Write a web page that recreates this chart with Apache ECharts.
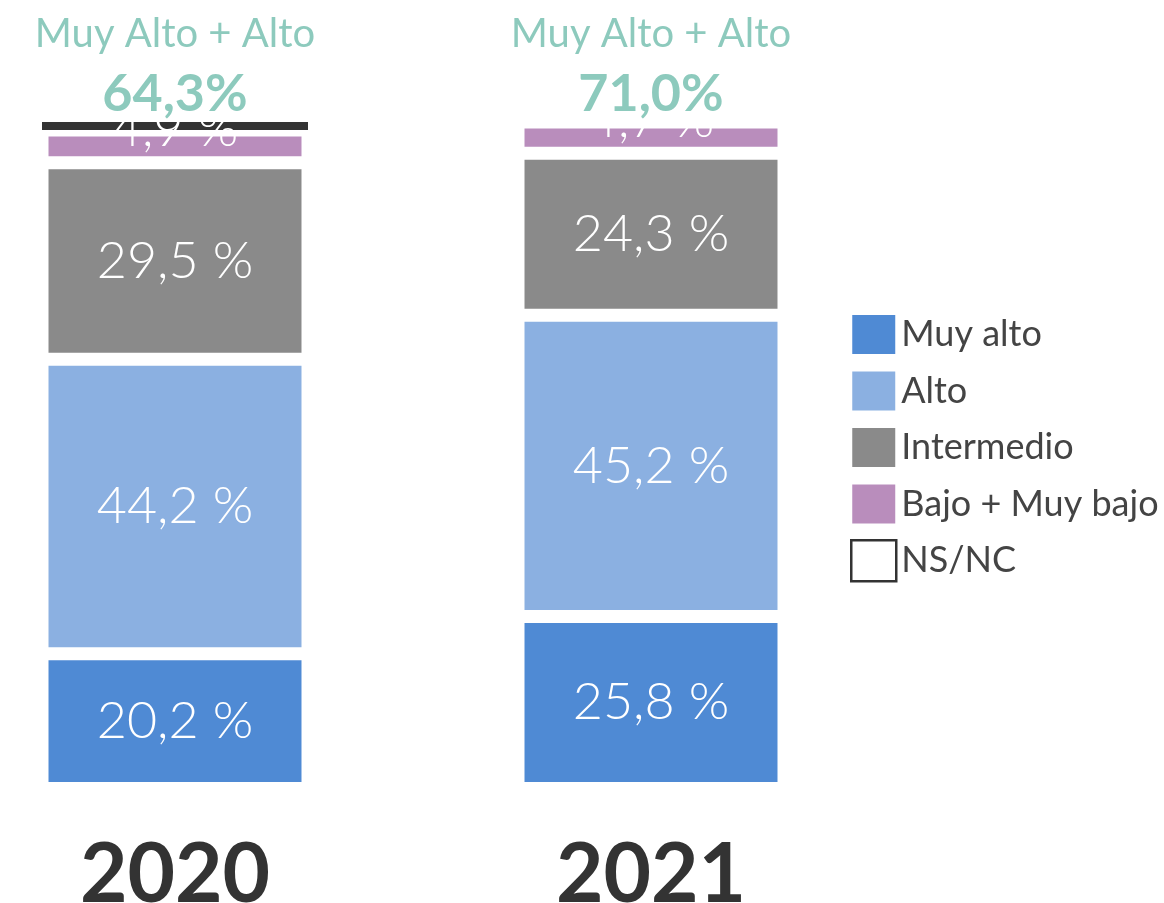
<!DOCTYPE html>
<html>
<head>
<meta charset="utf-8">
<script src="https://cdn.jsdelivr.net/npm/echarts@6/dist/echarts.min.js"></script>
<style>
html,body{margin:0;padding:0;background:#fff;}
#chart{width:1164px;height:903px;}
</style>
</head>
<body>
<div id="chart"></div>
<script>
const years = ['2020', '2021'];
const muyAlto = [20.2, 25.8];
const alto = [44.2, 45.2];
const intermedio = [29.5, 24.3];
const bajo = [4.9, 4.7];
const nsnc = [1.2, 0];
const topTitle = 'Muy Alto + Alto';
const topTotals = ['64,3%', '71,0%'];

const FONT = 'Lato';
const fmt = v => String(v).replace('.', ',') + ' %';

function seg(name, data, color, extraLabel) {
  return {
    name: name,
    type: 'bar',
    stack: 'total',
    barWidth: 266,
    data: data,
    itemStyle: { color: color, borderColor: '#fff', borderWidth: 6.5 },
    label: Object.assign({
      show: true,
      position: 'inside',
      color: '#fff',
      fontFamily: FONT,
      fontWeight: 300,
      fontSize: 52,
      formatter: p => fmt(p.value)
    }, extraLabel || {})
  };
}

const chart = echarts.init(document.getElementById('chart'));
chart.setOption({
  animation: false,
  backgroundColor: '#fff',
  textStyle: { fontFamily: FONT },
  grid: { left: -63, right: 275, top: 122, bottom: 114.5, containLabel: false, outerBoundsMode: 'none' },
  xAxis: {
    type: 'category',
    data: years,
    axisLine: { show: false },
    axisTick: { show: false },
    axisLabel: { fontFamily: FONT, fontWeight: 'bold', fontSize: 82, color: '#333', margin: 46 }
  },
  yAxis: {
    type: 'value', min: 0, max: 100,
    axisLine: { show: false }, axisTick: { show: false },
    axisLabel: { show: false }, splitLine: { show: false }
  },
  legend: {
    orient: 'vertical',
    left: 850,
    top: 313,
    padding: 0,
    icon: 'rect',
    itemWidth: 45,
    itemHeight: 41,
    itemGap: 13.5,
    textStyle: { fontFamily: FONT, fontSize: 36, color: '#444' },
    data: [
      { name: 'Muy alto' },
      { name: 'Alto' },
      { name: 'Intermedio' },
      { name: 'Bajo + Muy bajo' },
      { name: 'NS/NC', itemStyle: { color: '#fff', borderColor: '#333', borderWidth: 2.5 } }
    ]
  },
  series: [
    seg('Muy alto', muyAlto, '#4f8ad4'),
    seg('Alto', alto, '#8bb0e1'),
    seg('Intermedio', intermedio, '#8a8a8a'),
    seg('Bajo + Muy bajo', bajo, '#b98dbc', { offset: [0, -17] }),
    {
      name: 'NS/NC',
      type: 'bar',
      stack: 'total',
      barWidth: 266,
      data: nsnc,
      itemStyle: { color: '#333', borderWidth: 0 },
      label: {
        show: true,
        position: 'top',
        distance: 1,
        formatter: p => '{a|' + topTitle + '}\n{b|' + topTotals[p.dataIndex] + '}',
        rich: {
          a: { fontFamily: FONT, fontSize: 40, color: '#8dcabd', lineHeight: 66 },
          b: { fontFamily: FONT, fontSize: 52, fontWeight: 'bold', color: '#8dcabd', lineHeight: 54 }
        }
      }
    }
  ]
});
</script>
</body>
</html>
